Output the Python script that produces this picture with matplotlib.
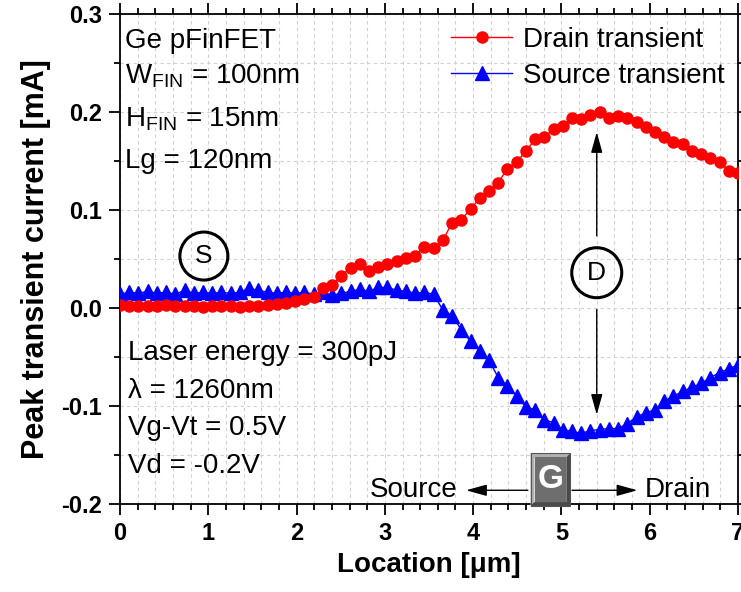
import numpy as np
import matplotlib
matplotlib.use("Agg")
import matplotlib.pyplot as plt
from matplotlib.patches import Ellipse, Polygon
from matplotlib.ticker import MultipleLocator

plt.rcParams['font.family'] = ['Liberation Sans', 'DejaVu Sans']
plt.rcParams['mathtext.fontset'] = 'custom'
plt.rcParams['mathtext.rm'] = 'Liberation Sans'

# ---- data ----
n_points = 68
location = np.linspace(0, 7, n_points)

drain = [0.003, 0.002, 0.002, 0.002, 0.002, 0.003, 0.002, 0.002, 0.002, 0.001,
         0.002, 0.002, 0.002, 0.001, 0.002, 0.002, 0.003, 0.004, 0.005, 0.007,
         0.009, 0.011, 0.020, 0.023, 0.033, 0.041, 0.045, 0.038, 0.042, 0.045,
         0.048, 0.051, 0.053, 0.062, 0.061, 0.069, 0.087, 0.090, 0.101, 0.112,
         0.119, 0.128, 0.142, 0.149, 0.160, 0.172, 0.174, 0.183, 0.186, 0.194,
         0.193, 0.197, 0.200, 0.194, 0.196, 0.194, 0.190, 0.185, 0.180, 0.175,
         0.169, 0.167, 0.160, 0.157, 0.153, 0.149, 0.140, 0.138]

source = [0.014, 0.016, 0.015, 0.017, 0.015, 0.016, 0.014, 0.018, 0.015, 0.016,
          0.015, 0.016, 0.015, 0.016, 0.020, 0.018, 0.016, 0.015, 0.016, 0.015,
          0.016, 0.014, 0.016, 0.013, 0.015, 0.017, 0.019, 0.017, 0.021, 0.021,
          0.018, 0.017, 0.015, 0.016, 0.014, -0.002, -0.008, -0.022, -0.034, -0.044,
          -0.053, -0.071, -0.080, -0.090, -0.101, -0.104, -0.114, -0.117, -0.124, -0.126,
          -0.128, -0.125, -0.124, -0.123, -0.123, -0.118, -0.111, -0.107, -0.104, -0.095,
          -0.090, -0.085, -0.081, -0.077, -0.071, -0.066, -0.062, -0.058]

x_ticks = [0, 1, 2, 3, 4, 5, 6, 7]
y_ticks = [-0.2, -0.1, 0.0, 0.1, 0.2, 0.3]
y_ticklabels = ['-0.2', '-0.1', '0.0', '0.1', '0.2', '0.3']

device_lines = ['Ge pFinFET', r'$\mathregular{W_{FIN}}$ = 100nm',
                r'$\mathregular{H_{FIN}}$ = 15nm', 'Lg = 120nm']
bias_lines = ['Laser energy = 300pJ', 'λ = 1260nm', 'Vg-Vt = 0.5V', 'Vd = -0.2V']

# ---- figure ----
fig = plt.figure(figsize=(7.41, 5.92), dpi=100)
ax = fig.add_axes([120/741, 88/592, 618/741, 490/592])

ax.plot(location, source, color='#0000ff', lw=1, marker='^', ms=9.5,
        mec='#0000ff', mfc='#0000ff', label='Source transient', zorder=3)
ax.plot(location, drain, color='#ff0000', lw=1, marker='o', ms=8,
        mec='#ff0000', mfc='#ff0000', label='Drain transient', zorder=4)

ax.set_xlim(0, 7)
ax.set_ylim(-0.2, 0.3)
ax.set_xticks(x_ticks)
ax.set_yticks(y_ticks)
ax.set_yticklabels(y_ticklabels)
ax.xaxis.set_minor_locator(MultipleLocator(0.2))
ax.yaxis.set_minor_locator(MultipleLocator(0.05))
ax.tick_params(which='both', direction='out', top=True, right=True, width=1.3)
ax.tick_params(which='major', length=8, labelsize=17, pad=5)
ax.tick_params(which='minor', length=4.5)
for lab in ax.get_xticklabels() + ax.get_yticklabels():
    lab.set_fontweight('bold')
for s in ax.spines.values():
    s.set_linewidth(1.3)

ax.grid(True, which='both', color='#d0d0d0', ls=(0, (3, 3)), lw=0.8, zorder=0)
ax.set_axisbelow(True)

ax.set_xlabel('Location [μm]', fontsize=20, fontweight='bold', labelpad=5)
ax.set_ylabel('Peak transient current [mA]', fontsize=22, fontweight='bold', labelpad=7)

# legend
h, l = ax.get_legend_handles_labels()
ax.legend(h[::-1], l[::-1], loc='upper left', bbox_to_anchor=(0.536, 0.974),
          frameon=False, fontsize=20, borderpad=0, borderaxespad=0,
          handlelength=2.2, handletextpad=0.4, labelspacing=0.37)

# device text
for t, yb in zip(device_lines, [0.9306, 0.859, 0.771, 0.686]):
    ax.text(0.008, yb, t, transform=ax.transAxes, fontsize=20, va='baseline', ha='left')
for t, yb in zip(bias_lines, [0.294, 0.216, 0.141, 0.063]):
    ax.text(0.013, yb, t, transform=ax.transAxes, fontsize=20, va='baseline', ha='left')

# circles S and D
px_x = 618 / 7.0
px_y = 490 / 0.5
for (cx, cy, lab, r) in [(0.95, 0.053, 'S', 24), (5.40, 0.036, 'D', 25)]:
    ax.add_patch(Ellipse((cx, cy), 2 * r / px_x, 2 * r / px_y, fill=False,
                         lw=2.2, ec='black', zorder=5))
    ax.text(cx, cy, lab, ha='center', va='center', fontsize=19, zorder=6)

# D arrows
arrow_kw = dict(arrowstyle='-|>,head_length=0.9,head_width=0.25', color='black',
                lw=1.0, mutation_scale=14, shrinkA=0, shrinkB=0)
ax.annotate('', xy=(5.40, 0.1795), xytext=(5.40, 0.0736), arrowprops=arrow_kw, zorder=6)
ax.annotate('', xy=(5.40, -0.109), xytext=(5.40, -0.0015), arrowprops=arrow_kw, zorder=6)

# Source / Drain arrows
ax.annotate('', xy=(3.92, -0.186), xytext=(4.62, -0.186), arrowprops=arrow_kw, zorder=6)
ax.annotate('', xy=(5.86, -0.186), xytext=(5.12, -0.186), arrowprops=arrow_kw, zorder=6)
ax.text(3.82, -0.186, 'Source', ha='right', va='center', fontsize=20, zorder=6)
ax.text(5.94, -0.186, 'Drain', ha='left', va='center', fontsize=20, zorder=6)

# G button
x0, x1, y0, y1 = 4.65, 5.10, -0.2025, -0.148
bx, by = 0.045, 0.0045
ax.add_patch(Polygon([(x0, y0), (x0, y1), (x1, y1), (x1 - bx, y1 - by),
                      (x0 + bx, y1 - by), (x0 + bx, y0 + by)], closed=True,
                     fc='#b0b0b0', ec='none', clip_on=False, zorder=7))
ax.add_patch(Polygon([(x0, y0), (x1, y0), (x1, y1), (x1 - bx, y1 - by),
                      (x1 - bx, y0 + by), (x0 + bx, y0 + by)], closed=True,
                     fc='#4a4a4a', ec='none', clip_on=False, zorder=7))
ax.add_patch(Polygon([(x0 + bx, y0 + by), (x1 - bx, y0 + by), (x1 - bx, y1 - by),
                      (x0 + bx, y1 - by)], closed=True,
                     fc='#6e6e6e', ec='none', clip_on=False, zorder=7))
ax.add_patch(Polygon([(x0, y0), (x1, y0), (x1, y1), (x0, y1)], closed=True,
                     fc='none', ec='#555555', lw=0.8, clip_on=False, zorder=7))
ax.text((x0 + x1) / 2, (y0 + y1) / 2, 'G', ha='center', va='center', fontsize=24,
        fontweight='bold', color='white', zorder=8, clip_on=False)

fig.savefig('out.png', dpi=100)
